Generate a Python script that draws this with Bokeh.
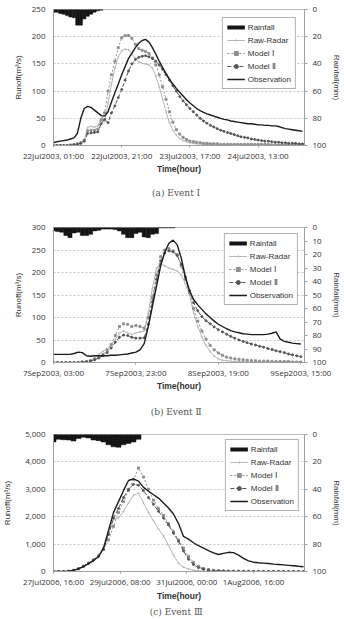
from bokeh.plotting import figure
from bokeh.models import Range1d, LinearAxis, FixedTicker, NumeralTickFormatter, Legend, LegendItem, Title
from bokeh.layouts import column
from bokeh.embed import file_html
from bokeh.resources import INLINE

FONT = "Open Sans"
LFONT = "Liberation Sans"
SERIF = "DejaVu Serif"

# ---------------- Event I (hourly, 22Jul2003 01:00 = hour 0) ----------------
hours_a = list(range(74))
rain_hours_a = list(range(15))
rain_a = [2, 2, 3, 3.5, 4.5, 5.5, 6, 11.5, 11.5, 7, 5, 3.5, 2, 1, 0.5]
obs_a = [5, 7, 8, 9, 10, 12, 14, 22, 50, 68,
         72, 70, 65, 60, 55, 54, 62, 80, 97, 113,
         130, 145, 160, 170, 180, 188, 193, 195, 190, 180,
         168, 155, 143, 132, 122, 113, 105, 98, 91, 84,
         78, 73, 68, 64, 61, 58, 56, 54, 52, 50,
         48, 47, 45, 44, 43, 42, 41, 40, 40, 39,
         38, 38, 37, 37, 36, 36, 35, 33, 31, 30,
         29, 28, 27, 26]
radar_a = [0, 0, 0, 0, 0, 1, 1, 2, 4, 10,
           33, 35, 34, 36, 50, 44, 78, 112, 142, 163,
           174, 177, 176, 168, 160, 154, 151, 150, 148, 142,
           128, 108, 85, 62, 42, 28, 19, 13, 9, 7,
           5, 4, 3, 3, 2, 2, 2, 2, 1, 1,
           1, 1, 1, 1, 1, 1, 1, 1, 1, 1,
           1, 1, 1, 1, 1, 1, 1, 1, 1, 1,
           1, 1, 1, 1]
model1_a = [0, 0, 0, 0, 0, 1, 2, 3, 5, 9,
            27, 28, 28, 30, 47, 60, 100, 130, 155, 180,
            198, 202, 202, 197, 186, 178, 175, 173, 169, 161,
            148, 130, 108, 85, 62, 43, 29, 21, 15, 11,
            8, 7, 6, 5, 4, 4, 3, 3, 3, 2,
            2, 2, 2, 2, 2, 2, 2, 2, 2, 2,
            2, 2, 2, 2, 1, 1, 1, 1, 1, 1,
            1, 1, 1, 1]
model2_a = [0, 0, 0, 0, 0, 0, 1, 2, 4, 8,
            22, 23, 24, 25, 40, 48, 42, 60, 73, 88,
            103, 120, 137, 150, 158, 162, 164, 165, 163, 160,
            155, 148, 140, 130, 120, 110, 100, 90, 82, 75,
            68, 62, 56, 50, 45, 41, 37, 34, 31, 28,
            26, 24, 22, 20, 18, 16, 15, 14, 12, 11,
            10, 9, 8, 8, 7, 6, 6, 5, 5, 4,
            4, 4, 3, 3]
ticks_a = [0, 20, 40, 60]
tick_labels_a = ["22Jul2003, 01:00", "22Jul2003, 21:00", "23Jul2003, 17:00", "24Jul2003, 13:00"]

# ---------------- Event II (hourly, 7Sep2003 03:00 = hour 0) ----------------
hours_b = list(range(61))
rain_hours_b = list(range(30))
rain_b = [2.5, 3, 3.5, 6, 7.5, 4, 3.5, 6, 6, 5, 2.5, 2, 1.2, 1.2, 1.2,
          1.5, 2.5, 5, 7.5, 7.5, 4.5, 3.5, 7, 7.5, 5, 4.5, 0.3, 0.3, 0.3, 0.3]
obs_b = [18, 18, 18, 18, 18, 20, 23, 22, 15, 14,
         15, 15, 15, 15, 16, 16, 17, 18, 19, 21,
         23, 28, 42, 80, 125, 170, 215, 245, 265, 272,
         262, 232, 190, 160, 140, 128, 118, 108, 100, 92,
         85, 80, 75, 71, 68, 66, 64, 63, 62, 62,
         62, 62, 63, 65, 68, 52, 47, 45, 43, 42,
         41]
radar_b = [0, 0, 0, 0, 0, 0, 0, 0, 2, 5,
           10, 18, 25, 30, 38, 52, 65, 70, 66, 62,
           66, 68, 70, 110, 165, 210, 219, 215, 210, 207,
           203, 195, 175, 150, 110, 80, 57, 38, 24, 14,
           8, 5, 4, 3, 2, 2, 2, 1, 1, 1,
           1, 1, 1, 1, 1, 1, 1, 1, 1, 1,
           1]
model1_b = [0, 0, 0, 0, 0, 0, 0, 1, 2, 4,
            8, 12, 18, 28, 40, 60, 80, 86, 85, 80,
            82, 80, 76, 100, 145, 195, 235, 250, 253, 248,
            240, 215, 185, 155, 120, 92, 70, 52, 38, 28,
            21, 16, 12, 10, 8, 7, 6, 5, 4, 4,
            3, 3, 3, 2, 2, 2, 2, 2, 1, 1,
            1]
model2_b = [0, 0, 0, 0, 0, 0, 0, 1, 1, 3,
            6, 10, 15, 22, 32, 45, 56, 61, 60, 56,
            54, 54, 55, 85, 135, 185, 225, 243, 248, 246,
            238, 218, 190, 160, 133, 115, 102, 93, 86, 79,
            73, 68, 63, 58, 54, 50, 47, 44, 41, 39,
            36, 34, 31, 29, 26, 24, 22, 19, 17, 15,
            13]
ticks_b = [0, 20, 40, 60]
tick_labels_b = ["7Sep2003, 03:00", "7Sep2003, 23:00", "8Sep2003, 19:00", "9Sep2003, 15:00"]

# ---------------- Event III (3-hourly, 27Jul2006 16:00 = hour 0) ----------------
hours_c = list(range(0, 151, 3))
rain_hours_c = list(range(0, 52, 3))
rain_c = [5.5, 3.5, 3.8, 4, 4.8, 3, 2, 2.5, 4, 4.5, 5.5, 7.5, 9, 9.3, 7.5, 6.5, 5.5, 3.5]
obs_c = [0, 0, 0, 10, 40, 100, 180, 290, 400, 540,
         850, 1500, 2150, 2550, 2950, 3320, 3380, 3300, 3070, 2930,
         2800, 2680, 2500, 2320, 2100, 1750, 1280, 1180, 1050, 940,
         850, 760, 680, 620, 660, 700, 690, 600, 480, 390,
         340, 320, 305, 290, 270, 255, 240, 225, 210, 190,
         175]
radar_c = [0, 0, 0, 10, 50, 110, 200, 310, 430, 580,
           880, 1350, 1900, 1950, 2200, 2500, 2780, 2860, 2500, 2150,
           1850, 1550, 1300, 950, 600, 300, 160, 90, 50, 25,
           15, 10, 5, 3, 2, 2, 1, 1, 1, 1,
           1, 1, 1, 1, 1, 1, 1, 1, 1, 1,
           1]
model1_c = [0, 0, 0, 10, 40, 100, 190, 300, 420, 560,
            800, 1150, 1650, 2150, 2550, 2950, 3350, 3780, 3450, 3000,
            2600, 2300, 2050, 1750, 1450, 1150, 850, 550, 330, 190,
            110, 70, 45, 30, 20, 15, 10, 8, 6, 5,
            4, 3, 3, 2, 2, 2, 1, 1, 1, 1,
            1]
model2_c = [0, 0, 0, 10, 45, 100, 190, 300, 420, 560,
            820, 1350, 1950, 2300, 2700, 3000, 3180, 3150, 2950, 2700,
            2450, 2200, 1950, 1700, 1400, 1100, 750, 450, 250, 140,
            80, 50, 30, 20, 15, 10, 8, 6, 5, 4,
            3, 3, 2, 2, 2, 2, 1, 1, 1, 1,
            1]
ticks_c = [0, 40, 80, 120]
tick_labels_c = ["27Jul2006, 16:00", "29Jul2006, 08:00", "31Jul2006, 00:00", "1Aug2006, 16:00"]

C_RAIN = "#151515"
C_RADAR = "#b8b8b8"
C_M1 = "#909090"
C_M2 = "#555555"
C_OBS = "#1c1c1c"
C_TXT = "#333333"


def panel(height, top, bottom, left, right, xmax, ymax, yticks, rticks, yfmt,
          hours, rain_hours, rain, rain_w, radar, m1, m2, obs,
          xticks, xlabels, caption, cap_standoff, cap_offset, leg_margin, ylab_standoff,
          xl_standoff, xal_standoff):
    p = figure(width=344, height=height, output_backend="svg", toolbar_location=None,
               x_range=Range1d(0, xmax), y_range=Range1d(0, ymax), title=None,
               min_border_left=left, min_border_right=right,
               min_border_top=top, min_border_bottom=bottom)
    p.extra_y_ranges = {"rain": Range1d(100, 0)}
    p.outline_line_color = "#bdbdbd"
    p.background_fill_color = "white"
    p.border_fill_color = "white"

    # rainfall hanging from top
    p.vbar(x=rain_hours, width=rain_w, top=0, bottom=rain, y_range_name="rain",
           fill_color=C_RAIN, line_color=C_RAIN, line_width=0.5)
    # legend proxy for rainfall (a single NaN point: draws nothing in the plot)
    rain_key = p.line(x=rain_hours[:1], y=[float("nan")], y_range_name="rain",
                      color=C_RAIN, line_width=4)

    r_l = p.line(hours, radar, color=C_RADAR, line_width=1)
    r_s = p.scatter(hours, radar, marker="cross", size=2.5, color=C_RADAR, line_width=0.6)
    m1_l = p.line(hours, m1, color=C_M1, line_width=1, line_dash="2 2")
    m1_s = p.scatter(hours, m1, marker="square", size=2.0, color=C_M1)
    m2_l = p.line(hours, m2, color=C_M2, line_width=1, line_dash="4 2")
    m2_s = p.scatter(hours, m2, marker="circle", size=2.0, color=C_M2)
    o_l = p.line(hours, obs, color=C_OBS, line_width=1.4)

    # x axis
    xa = p.xaxis[0]
    xa.ticker = FixedTicker(ticks=xticks)
    xa.major_label_overrides = {t: l for t, l in zip(xticks, xlabels)}
    xa.major_label_text_font = FONT
    xa.major_label_text_font_size = "8px"
    xa.major_label_text_color = C_TXT
    xa.major_label_standoff = xl_standoff
    xa.major_tick_out = 2
    xa.major_tick_in = 0
    xa.minor_tick_line_color = None
    xa.axis_line_color = "#a0a0a0"
    xa.major_tick_line_color = "#a0a0a0"
    xa.axis_label = "Time(hour)"
    xa.axis_label_text_font = LFONT
    xa.axis_label_text_font_size = "8.5px"
    xa.axis_label_text_font_style = "bold"
    xa.axis_label_text_color = C_TXT
    xa.axis_label_standoff = xal_standoff

    # left axis
    ya = p.yaxis[0]
    ya.ticker = FixedTicker(ticks=yticks)
    if yfmt:
        ya.formatter = NumeralTickFormatter(format="0,0")
    ya.major_label_text_font = FONT
    ya.major_label_text_font_size = "8px"
    ya.major_label_text_color = C_TXT
    ya.major_tick_out = 0
    ya.major_tick_in = 0
    ya.major_label_standoff = 8
    ya.minor_tick_line_color = None
    ya.axis_line_color = "#a0a0a0"
    ya.axis_label = "Runoff(m³/s)"
    ya.axis_label_text_font = LFONT
    ya.axis_label_text_font_size = "8px"
    ya.axis_label_text_font_style = "normal"
    ya.axis_label_text_color = C_TXT
    ya.axis_label_standoff = ylab_standoff

    # right axis (rainfall, reversed)
    ra = LinearAxis(y_range_name="rain", ticker=FixedTicker(ticks=rticks))
    ra.major_label_text_font = FONT
    ra.major_label_text_font_size = "8px"
    ra.major_label_text_color = C_TXT
    ra.major_tick_out = 3
    ra.major_tick_in = 0
    ra.major_label_standoff = 5
    ra.minor_tick_line_color = None
    ra.axis_line_color = "#a0a0a0"
    ra.major_tick_line_color = "#a0a0a0"
    ra.axis_label = "Rainfall(mm)"
    ra.axis_label_text_font = LFONT
    ra.axis_label_text_font_size = "8px"
    ra.axis_label_text_font_style = "normal"
    ra.axis_label_text_color = C_TXT
    ra.axis_label_standoff = 3
    p.add_layout(ra, "right")

    p.xgrid.grid_line_color = None
    p.ygrid.ticker = FixedTicker(ticks=yticks)
    p.ygrid.grid_line_color = "#c4c4c4"
    p.ygrid.grid_line_dash = "2 2"
    p.ygrid.grid_line_width = 1

    legend = Legend(items=[
        LegendItem(label="Rainfall", renderers=[rain_key]),
        LegendItem(label="Raw-Radar", renderers=[r_l, r_s]),
        LegendItem(label="Model Ⅰ", renderers=[m1_l, m1_s]),
        LegendItem(label="Model Ⅱ", renderers=[m2_l, m2_s]),
        LegendItem(label="Observation", renderers=[o_l]),
    ], location="top_right")
    legend.label_text_font = LFONT
    legend.label_text_font_size = "8px"
    legend.label_text_color = C_TXT
    legend.glyph_width = 18
    legend.glyph_height = 10
    legend.label_height = 10
    legend.spacing = 3
    legend.padding = 4
    legend.margin = leg_margin
    legend.label_standoff = 3
    legend.border_line_color = "#666666"
    legend.border_line_width = 1
    legend.background_fill_color = "white"
    legend.background_fill_alpha = 1
    p.add_layout(legend)

    cap = Title(text=caption, align="center", text_font=SERIF, text_font_size="9px",
                text_font_style="normal", text_color="#555555", standoff=cap_standoff,
                offset=cap_offset)
    p.add_layout(cap, "below")
    return p


pa = panel(207, 9, 60, 41, 37, 73.6, 250, [0, 50, 100, 150, 200, 250], [0, 20, 40, 60, 80, 100], False,
           hours_a, rain_hours_a, rain_a, 1, radar_a, model1_a, model2_a, obs_a,
           ticks_a, tick_labels_a, "(a)  Event  Ⅰ", 19, 0, 8, 6, 2, 0)
pb = panel(220, 20, 64, 41, 37, 60.9, 300, [0, 50, 100, 150, 200, 250, 300],
           [0, 10, 20, 30, 40, 50, 60, 70, 80, 90, 100], False,
           hours_b, rain_hours_b, rain_b, 1, radar_b, model1_b, model2_b, obs_b,
           ticks_b, tick_labels_b, "(b)  Event  Ⅱ", 22, 0, 6, 6, 2, 0)
pc = panel(192, 7, 48, 52, 36, 150.6, 5000, [0, 1000, 2000, 3000, 4000, 5000], [0, 20, 40, 60, 80, 100], True,
           hours_c, rain_hours_c, rain_c, 3, radar_c, model1_c, model2_c, obs_c,
           ticks_c, tick_labels_c, "(c)  Event  Ⅲ", 2, -8, 5, 10, 2, 1)

layout = column(pa, pb, pc, spacing=0)
open("out.html", "w").write(file_html(layout, INLINE))
